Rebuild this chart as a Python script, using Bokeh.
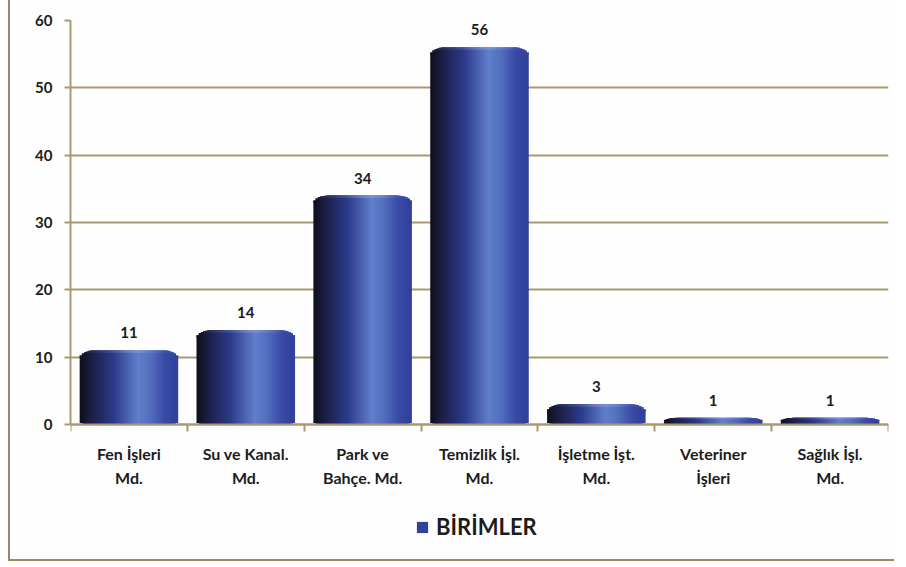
from bokeh.plotting import figure
from bokeh.models import Range1d, FixedTicker, ColumnDataSource, Legend, LegendItem
from bokeh.core.properties import value
from bokeh.embed import file_html
from bokeh.resources import INLINE
import math

categories = ["Fen İşleri\nMd.", "Su ve Kanal.\nMd.", "Park ve\nBahçe. Md.",
              "Temizlik İşl.\nMd.", "İşletme İşt.\nMd.", "Veteriner\nİşleri", "Sağlık İşl.\nMd."]
values = [11, 14, 34, 56, 3, 1, 1]
y_ticks = [0, 10, 20, 30, 40, 50, 60]
series_name = "BİRİMLER"

FONT = "Lato"
GRID = "#a8996f"
TEXT = "#1c1c1c"

# cylinder shading stops (position across bar, colour)
stops = [(0.0, (14, 14, 26)), (0.12, (28, 30, 70)), (0.35, (44, 58, 138)),
         (0.6, (96, 126, 204)), (0.72, (84, 112, 192)), (0.88, (56, 74, 166)),
         (1.0, (48, 64, 156))]


def mix(t, light=0.0):
    for (a, ca), (b, cb) in zip(stops[:-1], stops[1:]):
        if a <= t <= b:
            f = (t - a) / (b - a)
            c = [ca[k] + (cb[k] - ca[k]) * f for k in range(3)]
            break
    else:
        c = list(stops[-1][1])
    c = [round(x + (255 - x) * light) for x in c]
    return "#%02x%02x%02x" % tuple(c)


n = len(categories)
centers = [i + 0.5 for i in range(n)]
bar_w = 0.83
strips = 44
sw = bar_w / strips

xs, tops, bottoms, cols, rim_b, rim_c = [], [], [], [], [], []
for c, v in zip(centers, values):
    rr = min(1.2, v * 0.5)
    for k in range(strips):
        t = (k + 0.5) / strips
        u = abs(2 * t - 1)
        cw = 0.3
        drop = 0.0
        if u > 1 - cw:
            q = (u - (1 - cw)) / cw
            drop = rr * (1 - math.sqrt(max(0.0, 1 - q * q)))
        top = v - drop
        xs.append(c - bar_w / 2 + (k + 0.5) * sw)
        tops.append(top)
        bottoms.append(min(drop * 0.3, v * 0.2))
        cols.append(mix(t))
        rim_b.append(top - min(0.35, v * 0.2))
        rim_c.append(mix(t, 0.18 * (1 - u)))

p = figure(width=886, height=561, x_range=Range1d(0, n), y_range=Range1d(-18.71, 60),
           output_backend="svg", toolbar_location=None,
           min_border_left=60, min_border_right=8, min_border_top=20, min_border_bottom=11)
p.styles = {"margin-left": "8px", "border-left": "2px solid #9a8866",
            "border-bottom": "2px solid #9a8866"}
p.background_fill_color = "#fefefe"
p.border_fill_color = "#fefefe"
p.outline_line_color = None

# grid
p.xgrid.grid_line_color = None
p.ygrid.ticker = FixedTicker(ticks=y_ticks)
p.ygrid.grid_line_color = GRID
p.ygrid.grid_line_width = 2

src = ColumnDataSource(dict(x=xs, top=tops, bottom=bottoms, color=cols,
                            rb=rim_b, rc=rim_c))
p.vbar(x="x", top="top", bottom="bottom", width=sw * 1.7, source=src,
       fill_color="color", line_color=None)
p.vbar(x="x", top="top", bottom="rb", width=sw * 1.7, source=src,
       fill_color="rc", line_color=None)

# value labels
lab = ColumnDataSource(dict(x=centers, y=values, t=[str(v) for v in values]))
p.text(x="x", y="y", text="t", source=lab, text_align="center", text_baseline="bottom",
       y_offset=-12, text_font=value(FONT), text_font_style="bold", text_font_size="15px",
       text_color=TEXT)

# legend
dummy = p.vbar(x=[centers[0]], top=[0], bottom=[0], width=0.01,
               fill_color="#33409a", line_color=None)
legend = Legend(items=[LegendItem(label=series_name, renderers=[dummy])],
                orientation="horizontal", location=(345, 10),
                label_text_font=FONT, label_text_font_style="bold",
                label_text_font_size="22px", label_text_color=TEXT,
                glyph_width=14, glyph_height=14, border_line_color=None,
                background_fill_alpha=0, margin=0, padding=4, label_standoff=7)
p.add_layout(legend, "center")

# y axis
p.yaxis.ticker = FixedTicker(ticks=y_ticks)
p.yaxis.bounds = (0, 60)
p.yaxis.axis_line_color = GRID
p.yaxis.axis_line_width = 2
p.yaxis.major_tick_line_color = GRID
p.yaxis.major_tick_line_width = 2
p.yaxis.major_tick_out = 6
p.yaxis.major_tick_in = 0
p.yaxis.minor_tick_line_color = None
p.yaxis.major_label_standoff = 12
p.yaxis.major_label_text_font = FONT
p.yaxis.major_label_text_font_style = "bold"
p.yaxis.major_label_text_font_size = "15px"
p.yaxis.major_label_text_color = TEXT

# x axis, drawn at y = 0 inside the frame
p.xaxis.fixed_location = 0
p.xaxis.ticker = FixedTicker(ticks=centers, minor_ticks=list(range(n + 1)))
p.xaxis.major_label_overrides = {c: lbl for c, lbl in zip(centers, categories)}
p.xaxis.axis_line_color = GRID
p.xaxis.axis_line_width = 2
p.xaxis.major_tick_line_color = None
p.xaxis.major_tick_out = 0
p.xaxis.major_tick_in = 0
p.xaxis.minor_tick_line_color = GRID
p.xaxis.minor_tick_line_width = 2
p.xaxis.minor_tick_out = 7
p.xaxis.minor_tick_in = 0
p.xaxis.major_label_standoff = 12
p.xaxis.major_label_text_font = FONT
p.xaxis.major_label_text_font_style = "bold"
p.xaxis.major_label_text_font_size = "16px"
p.xaxis.major_label_text_color = TEXT
p.xaxis.major_label_text_line_height = 1.27

open("out.html", "w").write(file_html(p, INLINE))
